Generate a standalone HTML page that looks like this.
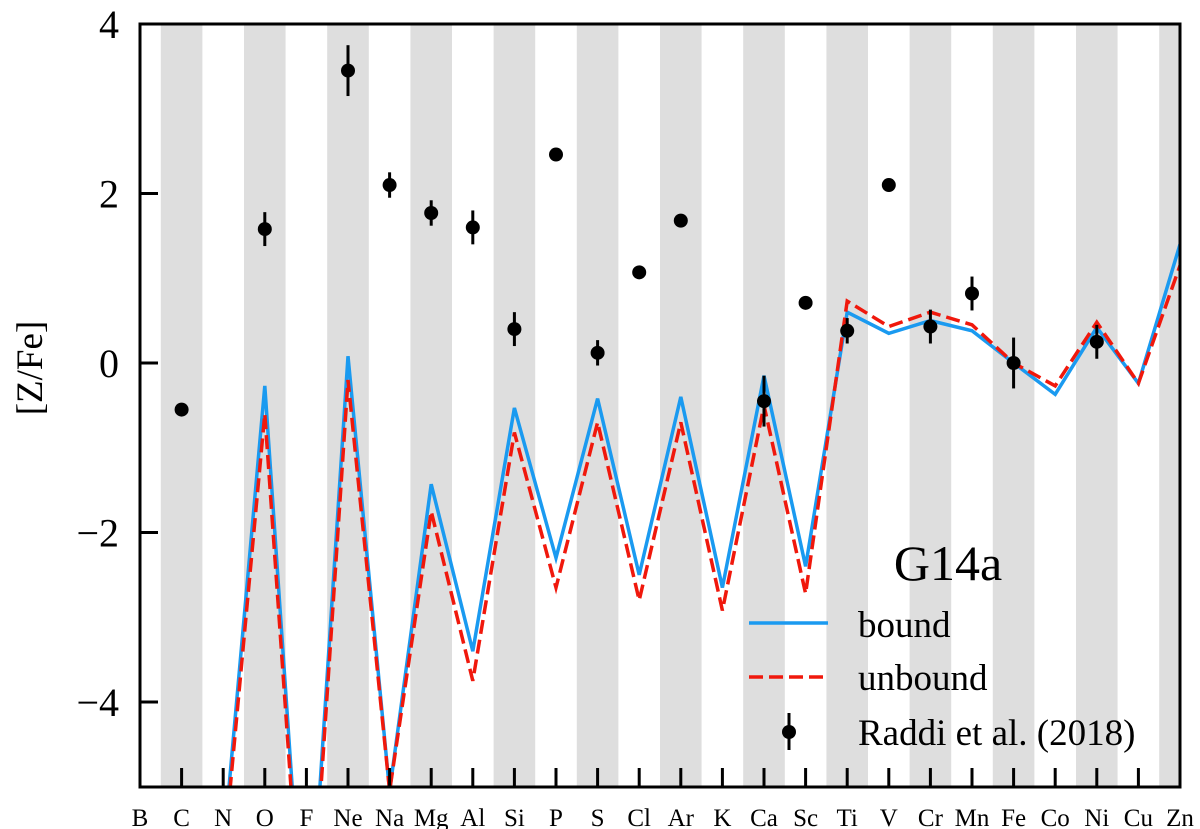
<!DOCTYPE html>
<html><head><meta charset="utf-8"><style>
body{margin:0;background:#fff;overflow:hidden}
svg{display:block;overflow:hidden}
svg text{font-family:"Liberation Serif",serif;fill:#000}
</style></head><body>
<svg id="chart" width="1200" height="829" xmlns="http://www.w3.org/2000/svg">
<defs><clipPath id="clip"><rect x="140" y="24" width="1040" height="763"/></clipPath></defs>
<g id="bands"></g>
<g id="lines" clip-path="url(#clip)"></g>
<g id="points"></g>
<g id="axes"></g>
<text x="0" y="0" font-size="37" text-anchor="middle" transform="translate(42,368) rotate(-90)">[Z/Fe]</text>
<g>
<text x="948" y="580" font-size="50" text-anchor="middle">G14a</text>
<line x1="749" y1="623" x2="828" y2="623" stroke="#1a9af0" stroke-width="3.5"/>
<text x="858" y="637" font-size="37">bound</text>
<line x1="749" y1="677" x2="828" y2="677" stroke="#f0180c" stroke-width="3.5" stroke-dasharray="14,6"/>
<text x="858" y="690" font-size="37">unbound</text>
<line x1="789" y1="713" x2="789" y2="750" stroke="#000" stroke-width="3"/>
<circle cx="789" cy="732" r="7"/>
<text x="858" y="745" font-size="37">Raddi et al. (2018)</text>
</g>
</svg>
<script>
const elements=["B","C","N","O","F","Ne","Na","Mg","Al","Si","P","S","Cl","Ar","K","Ca","Sc","Ti","V","Cr","Mn","Fe","Co","Ni","Cu","Zn"];
const boundVals=[-9,-9,-5.77,-0.27,-7.45,0.08,-5.05,-1.43,-3.4,-0.53,-2.3,-0.42,-2.5,-0.4,-2.65,-0.15,-2.4,0.6,0.35,0.5,0.38,0.0,-0.37,0.42,-0.24,1.4];
const unboundVals=[-9,-9,-5.9,-0.6,-7.6,-0.2,-5.05,-1.75,-3.75,-0.82,-2.65,-0.7,-2.8,-0.7,-2.92,-0.5,-2.72,0.73,0.43,0.6,0.45,0.0,-0.27,0.48,-0.24,1.15];
const obsElements=["C","O","Ne","Na","Mg","Al","Si","P","S","Cl","Ar","Ca","Sc","Ti","V","Cr","Mn","Fe","Ni"];
const obsVals=[-0.55,1.58,3.45,2.1,1.77,1.6,0.4,2.46,0.12,1.07,1.68,-0.45,0.71,0.38,2.1,0.43,0.82,0.0,0.25];
const obsErr=[0,0.2,0.3,0.15,0.15,0.2,0.2,0,0.15,0,0,0.3,0,0.15,0,0.2,0.2,0.3,0.2];
const yTicks=[-4,-2,0,2,4];
const yLabels=["\u22124","\u22122","0","2","4"];

const NS="http://www.w3.org/2000/svg";
const X=i=>140+i*41.6;
const Y=v=>363-v*84.75;
function mk(tag,attrs,parent){const e=document.createElementNS(NS,tag);for(const k in attrs)e.setAttribute(k,attrs[k]);parent.appendChild(e);return e;}
const bands=document.getElementById('bands'),lines=document.getElementById('lines'),pts=document.getElementById('points'),axes=document.getElementById('axes');
elements.forEach((el,i)=>{
  if(i%2===1){
    const x0=Math.max(140,X(i)-20.8),x1=Math.min(1180,X(i)+20.8);
    const r=mk('rect',{x:x0,y:24,width:x1-x0,height:763,fill:'#dedede'},bands);
    
    
  }
  if(i>0&&i<25){
    const t=mk('line',{x1:X(i),y1:768,x2:X(i),y2:787,stroke:'#000','stroke-width':3},axes);
    
    
  }
  const lb=mk('text',{x:X(i),y:826,'font-size':25,'text-anchor':'middle'},axes);
  lb.textContent=el;
  
  
});
const bp=mk('polyline',{points:boundVals.map((v,i)=>X(i)+','+Y(v)).join(' '),fill:'none',stroke:'#1a9af0','stroke-width':3.5},lines);


const up=mk('polyline',{points:unboundVals.map((v,i)=>X(i)+','+Y(v)).join(' '),fill:'none',stroke:'#f0180c','stroke-width':3.5,'stroke-dasharray':'14,6'},lines);


obsElements.forEach((el,k)=>{
  const i=elements.indexOf(el),v=obsVals[k],e=obsErr[k];
  if(e>0){
    const eb=mk('line',{x1:X(i),y1:Y(v+e),x2:X(i),y2:Y(v-e),stroke:'#000','stroke-width':3},pts);
    
    
  }
  const c=mk('circle',{cx:X(i),cy:Y(v),r:7,fill:'#000'},pts);
  
  
});
yTicks.forEach((v,k)=>{
  const t=mk('line',{x1:140,y1:Y(v),x2:158,y2:Y(v),stroke:'#000','stroke-width':3},axes);
  
  
  const l=mk('text',{x:119,y:Y(v)+14,'font-size':40,'text-anchor':'end'},axes);
  l.textContent=yLabels[k];
  
  
});
const fr=mk('rect',{x:140,y:24,width:1040,height:763,fill:'none',stroke:'#000','stroke-width':3},axes);


</script>
</body></html>
